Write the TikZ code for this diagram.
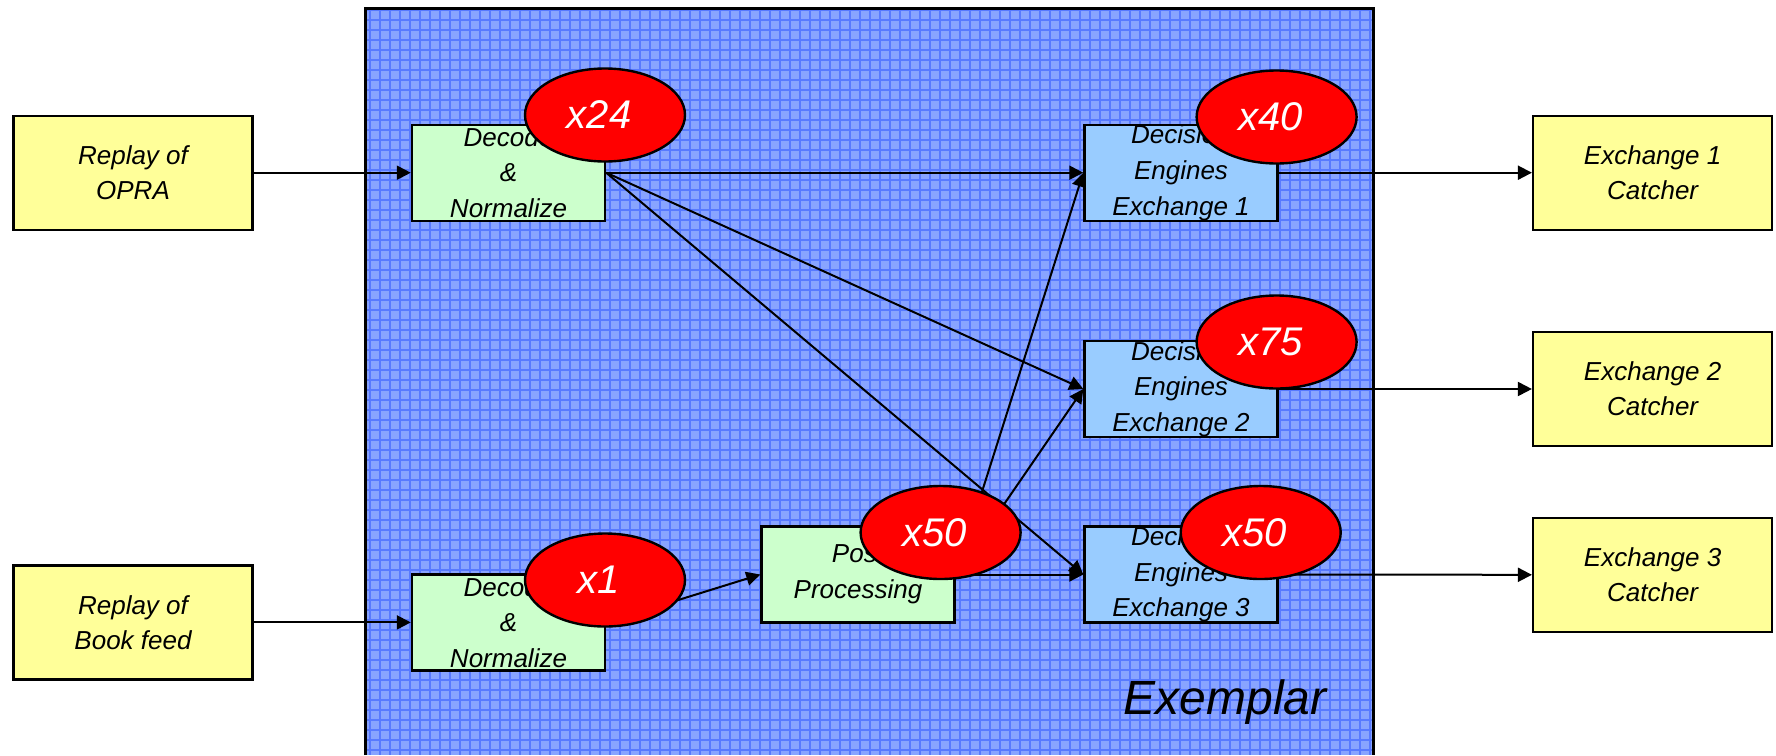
\documentclass[tikz,border=0pt]{standalone}
\usepackage{fontspec}
\setmainfont{Liberation Sans}
\usetikzlibrary{arrows.meta,shapes.geometric}

\definecolor{feedyellow}{RGB}{255,255,153}
\definecolor{stagegreen}{RGB}{204,255,204}
\definecolor{engineblue}{RGB}{153,204,255}
\definecolor{countred}{RGB}{255,0,0}
\definecolor{gridfill}{RGB}{136,164,255}
\definecolor{gridline}{RGB}{88,122,255}

\tikzset{every picture/.style={line width=1pt}}
\tikzset{
  feedbox/.style={draw, fill=feedyellow, line width=1.2pt, inner sep=0pt, align=center,
    minimum width=119.5pt, minimum height=57pt, font=\itshape\fontsize{13}{17.5}\selectfont},
  stagebox/.style={draw, fill=stagegreen, line width=1.2pt, inner sep=0pt, align=center,
    minimum width=96.5pt, minimum height=48pt, font=\itshape\fontsize{13}{17.8}\selectfont},
  enginebox/.style={stagebox, fill=engineblue},
  countblob/.style={draw, ellipse, fill=countred, line width=1.2pt, inner sep=0pt,
    minimum width=80pt, minimum height=46.5pt, text=white, font=\itshape\fontsize{20}{22}\selectfont,
    execute at end node={\hspace{6pt}}},
  feedarrow/.style={-{Triangle[length=7pt,width=7pt]}}
}

\begin{document}
\begin{tikzpicture}[x=0.5pt,y=0.5pt,yscale=-1,xscale=1]
		\useasboundingbox (0,0) rectangle (1776,755);

		%Shape: Exemplar area
		\fill [gridfill] (365,8) rectangle (1373,755);
		\draw [gridline, line width=0.8pt, step=10] (365,8) grid (1373,755);
		\draw [line width=1.5pt] (365,755) -- (365,8) -- (1373,8) -- (1373,755);
		% Text Node
		\node [font=\itshape\fontsize{24}{27}\selectfont] (area) at (1225,702) {Exemplar};

		%Feeds
		\node [feedbox] (opra) at (133,172.7) {Replay of\\OPRA};
		\node [feedbox] (book) at (133,622.4) {Replay of\\Book feed};

		%Stages
		\node [stagebox] (decA) at (508.5,172.7) {Decode\\\&\\Normalize};
		\node [stagebox] (decB) at (508.5,622.4) {Decode\\\&\\Normalize};
		\node [stagebox] (post) at (858,574.5) {Post\\Processing};

		%Engines
		\node [enginebox] (eng1) at (1181,172.7) {Decision\\Engines\\Exchange 1};
		\node [enginebox] (eng2) at (1181,389) {Decision\\Engines\\Exchange 2};
		\node [enginebox] (eng3) at (1181,574.5) {Decision\\Engines\\Exchange 3};

		%Catchers
		\node [feedbox] (catch1) at (1652.6,172.7) {Exchange 1\\Catcher};
		\node [feedbox] (catch2) at (1652.6,389) {Exchange 2\\Catcher};
		\node [feedbox] (catch3) at (1652.6,574.8) {Exchange 3\\Catcher};

		%Straight Lines
		\draw [feedarrow] (opra.east) -- (decA.west);
		\draw [feedarrow] (book.east) -- (decB.west);
		\draw [feedarrow] (decA.east) -- (eng1.west);
		\draw [feedarrow] (decA.east) -- (eng2.west);
		\draw [feedarrow] (decA.east) -- (eng3.west);
		\draw [feedarrow] (decB.east) -- (post.west);
		\draw [feedarrow] (post.east) -- (eng1.west);
		\draw [feedarrow] (post.east) -- (eng2.west);
		\draw [feedarrow] (post.east) -- (eng3.west);
		\draw [feedarrow] (eng1.east) -- (catch1.west);
		\draw [feedarrow] (eng2.east) -- (catch2.west);
		\draw [feedarrow] (eng3.east) -- (catch3.west);

		%Counts
		\node [countblob] (cntA) at (605,115) {x24};
		\node [countblob] (cntB) at (605,580) {x1};
		\node [countblob] (cntPost) at (940.6,532.5) {x50};
		\node [countblob] (cnt1) at (1276.6,117) {x40};
		\node [countblob] (cnt2) at (1276.6,342) {x75};
		\node [countblob] (cnt3) at (1260.7,532.5) {x50};

	\end{tikzpicture}
\end{document}
